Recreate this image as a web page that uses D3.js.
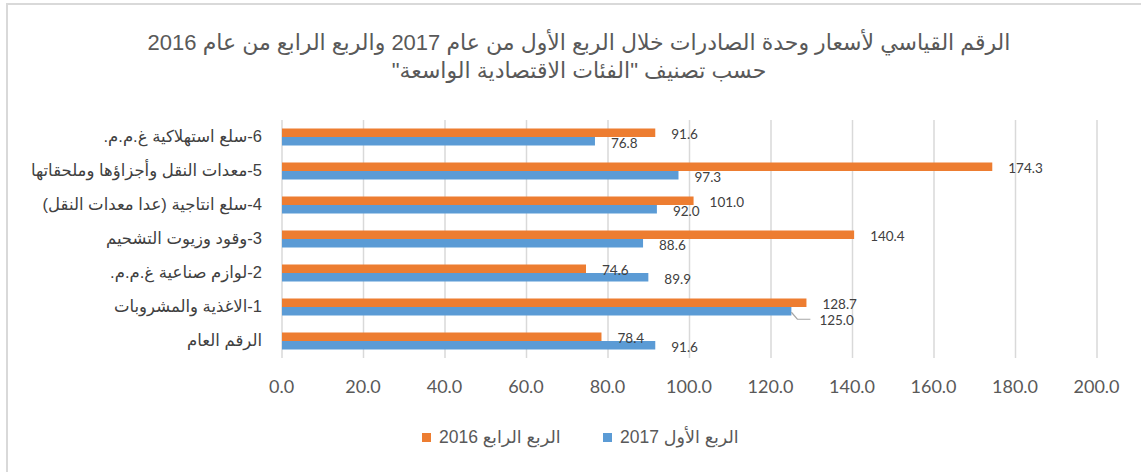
<!DOCTYPE html>
<html>
<head>
<meta charset="utf-8">
<script src="https://cdn.jsdelivr.net/npm/d3@7"></script>
<style>
  html, body { margin: 0; padding: 0; background: #fff; }
  svg { display: block; }
</style>
</head>
<body>
<svg id="chart"></svg>
<script>
  // categories, top to bottom as drawn
  const categories = [
    "6-سلع استهلاكية غ.م.م.",
    "5-معدات النقل وأجزاؤها وملحقاتها",
    "4-سلع انتاجية (عدا معدات النقل)",
    "3-وقود وزيوت التشحيم",
    "2-لوازم صناعية غ.م.م.",
    "1-الاغذية والمشروبات",
    "الرقم العام",
  ];
  const seriesNames = ["الربع الرابع 2016", "الربع الأول 2017"];
  const q4_2016 = [91.6, 174.3, 101.0, 140.4, 74.6, 128.7, 78.4];
  const q1_2017 = [76.8, 97.3, 92.0, 88.6, 89.9, 125.0, 91.6];
  const xTicks = [0, 20, 40, 60, 80, 100, 120, 140, 160, 180, 200];
  const titleLines = [
    "الرقم القياسي لأسعار وحدة الصادرات خلال الربع الأول من عام 2017 والربع الرابع من عام 2016",
    "حسب تصنيف \"الفئات الاقتصادية الواسعة\"",
  ];

  const colors = ["#ED7D31", "#5B9BD5"];
  const arabicFont = "'Liberation Sans', Arial, 'DejaVu Sans', sans-serif";
  const numFont = "Lato, Carlito, Calibri, sans-serif";

  const width = 1141, height = 472;
  const plot = { left: 282, right: 1097, top: 120, bottom: 358 };

  const svg = d3.select("#chart").attr("width", width).attr("height", height);

  // chart frame (only top and left edges fall inside the picture)
  svg.append("rect")
    .attr("x", 7).attr("y", 4)
    .attr("width", 1300).attr("height", 600)
    .attr("fill", "none")
    .attr("stroke", "#d9d9d9")
    .attr("stroke-width", 2);

  const x = d3.scaleLinear().domain([0, 200]).range([plot.left, plot.right]);
  const y = d3.scaleBand().domain(categories).range([plot.top, plot.bottom]);
  const ySub = d3.scaleBand().domain([0, 1]).range([0, y.bandwidth()])
    .paddingInner(0).paddingOuter(1);

  const rows = categories.map((c, i) => ({ cat: c, values: [q4_2016[i], q1_2017[i]] }));

  // title
  svg.append("g")
    .selectAll("text")
    .data(titleLines)
    .join("text")
    .attr("x", 579)
    .attr("y", (d, i) => 50 + i * 28)
    .attr("direction", "rtl")
    .attr("text-anchor", "middle")
    .style("font-family", arabicFont)
    .style("font-size", "22px")
    .style("fill", "#595959")
    .text((d) => d);

  // gridlines
  svg.append("g")
    .selectAll("line")
    .data(xTicks)
    .join("line")
    .attr("x1", (d) => x(d)).attr("x2", (d) => x(d))
    .attr("y1", plot.top).attr("y2", plot.bottom)
    .attr("stroke", "#d9d9d9")
    .attr("stroke-width", 1.5);

  // x axis labels
  const xAxis = d3.axisBottom(x).tickValues(xTicks).tickSize(0).tickPadding(0)
    .tickFormat(d3.format(".1f"));
  svg.append("g")
    .attr("transform", `translate(-1, ${plot.bottom})`)
    .call(xAxis)
    .call((g) => g.select(".domain").remove())
    .call((g) => g.selectAll("text")
      .attr("dy", 0).attr("y", 35)
      .style("font-family", numFont)
      .style("font-size", "18px")
      .style("fill", "#595959"));

  // category labels
  const yAxis = d3.axisLeft(y).tickSize(0).tickPadding(0);
  svg.append("g")
    .attr("transform", `translate(${plot.left}, 0)`)
    .call(yAxis)
    .call((g) => g.select(".domain").remove())
    .call((g) => g.selectAll("text")
      .attr("x", -20)
      .attr("direction", "rtl")
      .attr("text-anchor", "start")
      .style("font-family", arabicFont)
      .style("font-size", "16.5px")
      .style("fill", "#404040"));

  // bars
  const groups = svg.append("g")
    .selectAll("g")
    .data(rows)
    .join("g")
    .attr("transform", (d) => `translate(0, ${y(d.cat)})`);

  groups.selectAll("rect")
    .data((d) => d.values)
    .join("rect")
    .attr("x", x(0))
    .attr("y", (d, i) => ySub(i))
    .attr("width", (d) => x(d) - x(0))
    .attr("height", ySub.bandwidth())
    .attr("fill", (d, i) => colors[i]);

  // data labels; one label was dragged away in the original and has a leader line
  const moved = { row: 5, series: 1, dx: 28, dy: 14 };
  groups.each(function (row, r) {
    const g = d3.select(this);
    row.values.forEach((v, s) => {
      const isMoved = r === moved.row && s === moved.series;
      const bx = x(v);
      const by = ySub(s) + ySub.bandwidth() / 2;
      const lx = bx + (isMoved ? moved.dx : 16);
      const ly = by + (isMoved ? moved.dy : (s === 0 ? 6 : 7));
      if (isMoved) {
        g.append("path")
          .attr("d", `M${bx},${by + 1}L${bx + 6},${by + 8}L${bx + 19},${by + 8}`)
          .attr("fill", "none")
          .attr("stroke", "#a6a6a6")
          .attr("stroke-width", 1.2);
      }
      g.append("text")
        .attr("x", lx)
        .attr("y", ly)
        .style("font-family", numFont)
        .style("font-size", "13.5px")
        .style("fill", "#404040")
        .text(d3.format(".1f")(v));
    });
  });

  // legend
  const legendItems = [
    { name: seriesNames[0], color: colors[0], x: 422 },
    { name: seriesNames[1], color: colors[1], x: 603 },
  ];
  const legend = svg.append("g")
    .selectAll("g")
    .data(legendItems)
    .join("g")
    .attr("transform", (d) => `translate(${d.x}, 433)`);
  legend.append("rect")
    .attr("width", 9).attr("height", 9)
    .attr("fill", (d) => d.color);
  legend.append("text")
    .attr("x", 17)
    .attr("y", 10)
    .attr("direction", "rtl")
    .attr("text-anchor", "end")
    .style("font-family", arabicFont)
    .style("font-size", "17.5px")
    .style("fill", "#595959")
    .text((d) => d.name);
</script>
</body>
</html>
